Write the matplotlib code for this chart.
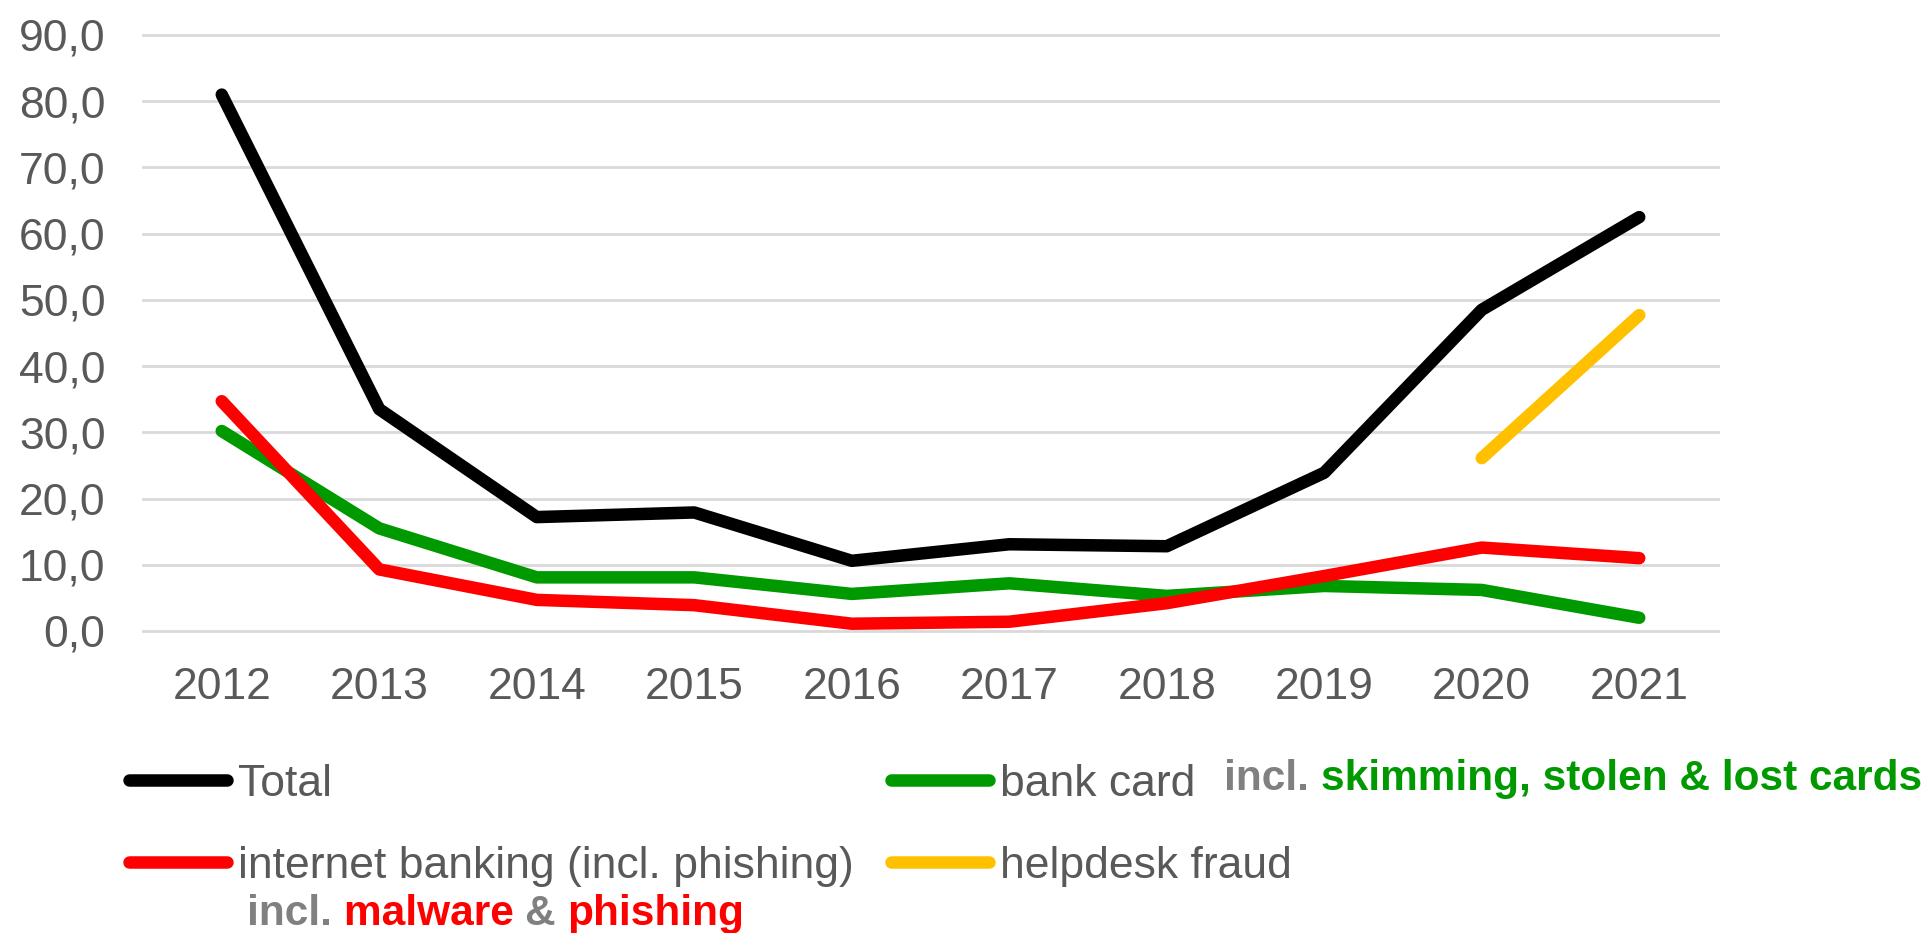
#!/usr/bin/env python3

import matplotlib
matplotlib.use('Agg')
import matplotlib.pyplot as plt
import numpy as np

################################################################################

# values
years = ['2012', '2013', '2014', '2015', '2016', '2017', '2018', '2019', '2020', '2021']
total = [81.0, 33.5, 17.2, 17.9, 10.6, 13.1, 12.8, 23.9, 48.5, 62.5]
bank_card = [30.2, 15.5, 8.1, 8.1, 5.6, 7.2, 5.3, 6.8, 6.2, 2.0]
internet_banking = [34.7, 9.3, 4.7, 3.9, 1.1, 1.4, 4.2, 8.3, 12.6, 11.0]
helpdesk_fraud = [np.nan, np.nan, np.nan, np.nan, np.nan, np.nan, np.nan, np.nan, 26.1, 47.7]
y_ticks = [0, 10, 20, 30, 40, 50, 60, 70, 80, 90]

TEXT_GREY = '#595959'
NOTE_GREY = '#808080'
GREEN = '#009900'
RED = '#ff0000'
YELLOW = '#ffc000'

################################################################################

def pieced_text(fig, x, y, pieces, **kwargs):
	'''
Write several coloured pieces of text one after another on a single line.
x and y are figure fractions of the left end and the baseline.
'''

	renderer = fig.canvas.get_renderer()
	fig_width = fig.bbox.width
	for text, colour in pieces:
		t = fig.text(x, y, text, color = colour, ha = 'left', va = 'baseline', **kwargs)
		x += t.get_window_extent(renderer).width / fig_width

################################################################################

def main():

	plt.rcParams['font.family'] = ['Liberation Sans', 'DejaVu Sans']

	fig = plt.figure(figsize = (19.28, 9.33), dpi = 100)
	W, H = 1928, 933

	# plot area in pixels: x 143..1718, y 35..631
	ax = fig.add_axes([143 / W, 1 - 631 / H, (1718 - 143) / W, (631 - 35) / H])

	x = np.arange(len(years))
	line_kw = dict(linewidth = 9, solid_capstyle = 'round', solid_joinstyle = 'round')
	h_total, = ax.plot(x, total, color = 'black', label = 'Total', **line_kw)
	h_card, = ax.plot(x, bank_card, color = GREEN, label = 'bank card', **line_kw)
	h_inet, = ax.plot(x, internet_banking, color = RED, label = 'internet banking (incl. phishing)', **line_kw)
	h_help, = ax.plot(x, helpdesk_fraud, color = YELLOW, label = 'helpdesk fraud', **line_kw)

	ax.set_xlim(-0.5, len(years) - 0.5)
	ax.set_ylim(0, 90)
	ax.set_xticks(x)
	ax.set_xticklabels(years)
	ax.set_yticks(y_ticks)
	ax.set_yticklabels([f'{v:.1f}'.replace('.', ',') for v in y_ticks])
	ax.tick_params(axis = 'both', length = 0, labelsize = 32, labelcolor = TEXT_GREY)
	ax.tick_params(axis = 'x', pad = 26)
	ax.tick_params(axis = 'y', pad = 27)

	# horizontal grid only, no frame
	for spine in ax.spines.values():
		spine.set_visible(False)
	ax.yaxis.grid(True, color = '#d9d9d9', linewidth = 2)
	for gl in ax.yaxis.get_gridlines():
		gl.set_clip_on(False)
	ax.set_axisbelow(True)

	# two legends, one per column, so the columns sit where they do in the original
	leg_kw = dict(loc = 'upper left', frameon = False, fontsize = 32, labelcolor = TEXT_GREY,
	              handlelength = 2.2, handletextpad = 0.25, labelspacing = 0.92,
	              borderpad = 0, borderaxespad = 0)
	fig.legend([h_total, h_inet], ['Total', 'internet banking (incl. phishing)'],
	           bbox_to_anchor = (129 / W, 1 - 764 / H), **leg_kw)
	fig.legend([h_card, h_help], ['bank card', 'helpdesk fraud'],
	           bbox_to_anchor = (891 / W, 1 - 764 / H), **leg_kw)

	# coloured notes next to the legend entries
	note_kw = dict(fontsize = 30.5, fontweight = 'bold')
	pieced_text(fig, 1224 / W, 1 - 790 / H,
	            [('incl. ', NOTE_GREY), ('skimming, stolen & lost cards', GREEN)], **note_kw)
	pieced_text(fig, 247 / W, 1 - 925 / H,
	            [('incl. ', NOTE_GREY), ('malware ', RED), ('& ', NOTE_GREY), ('phishing', RED)], **note_kw)

	fig.savefig('out.png', dpi = 100)

################################################################################

if __name__ == '__main__':
	main()
